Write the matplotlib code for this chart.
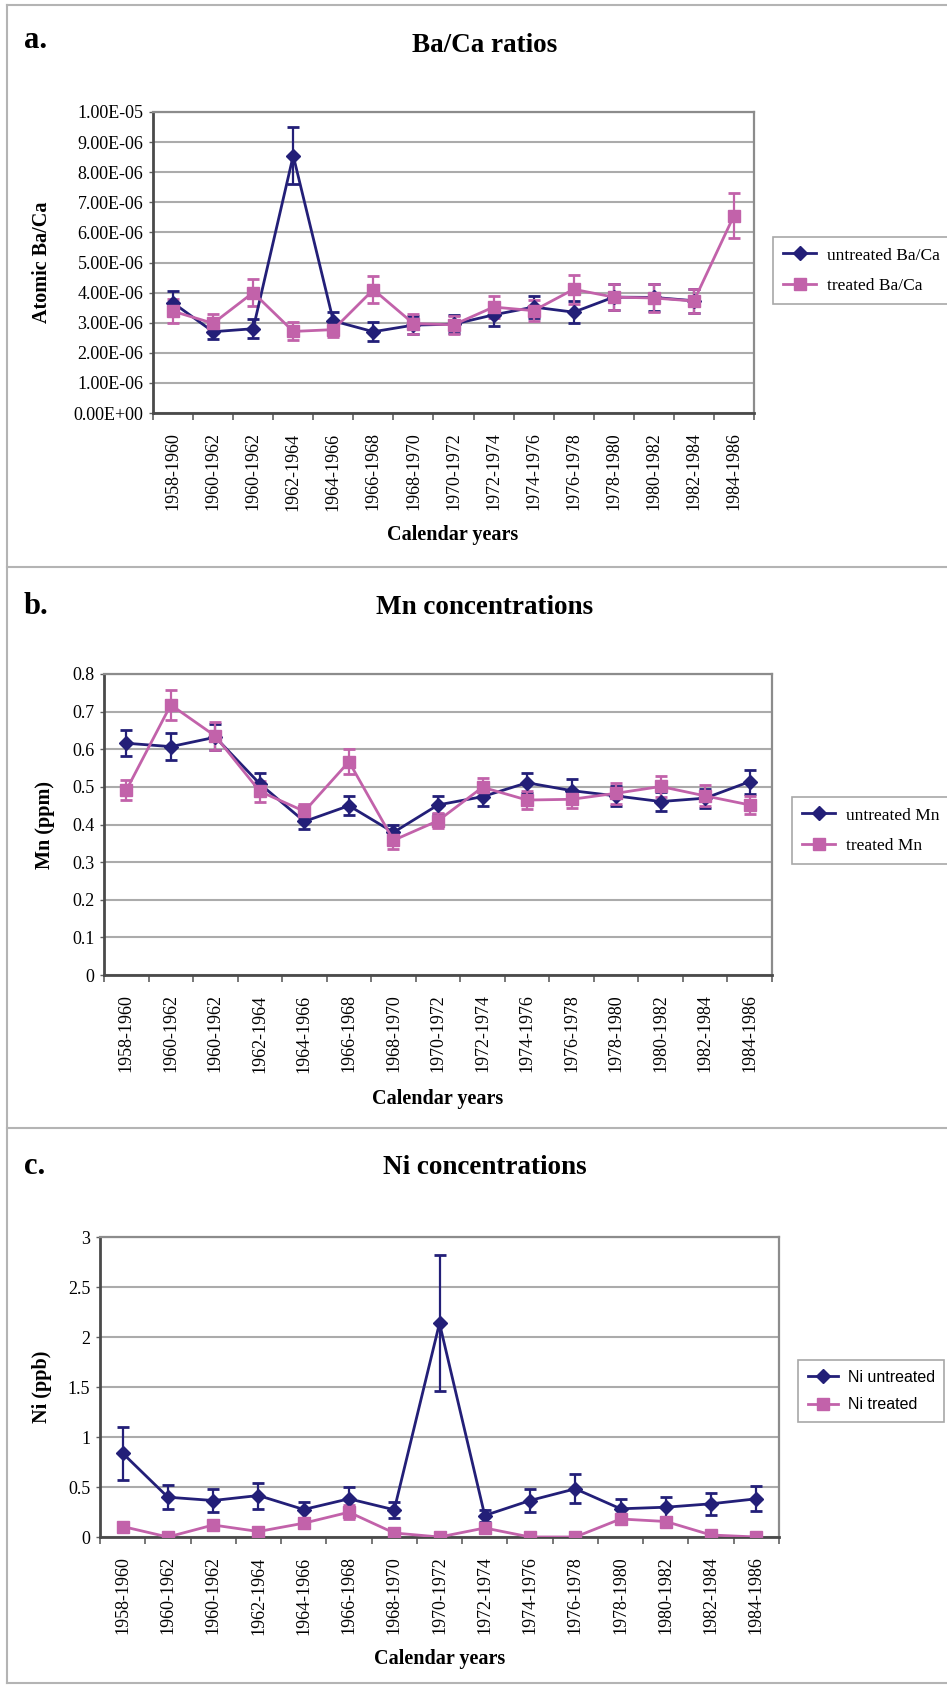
import numpy as np
import matplotlib.pyplot as plt
from matplotlib.lines import Line2D
from matplotlib.ticker import FixedLocator, FuncFormatter

# calendar-year bins (shared by all three panels)
years = ["1958-1960", "1960-1962", "1960-1962", "1962-1964", "1964-1966",
         "1966-1968", "1968-1970", "1970-1972", "1972-1974", "1974-1976",
         "1976-1978", "1978-1980", "1980-1982", "1982-1984", "1984-1986"]

# a. Ba/Ca ratios (x 1e-6)
baca_untreated = [3.66, 2.70, 2.80, 8.55, 3.06, 2.70, 2.92, 2.95, 3.26, 3.52,
                  3.35, 3.85, 3.84, 3.73, np.nan]
baca_untreated_err = [0.40, 0.24, 0.32, 0.95, 0.30, 0.32, 0.30, 0.30, 0.37, 0.36,
                      0.36, 0.42, 0.44, 0.40, np.nan]
baca_treated = [3.38, 2.98, 4.00, 2.71, 2.77, 4.10, 2.97, 2.93, 3.52, 3.40,
                4.11, 3.85, 3.82, 3.72, 6.56]
baca_treated_err = [0.40, 0.32, 0.44, 0.30, 0.26, 0.45, 0.33, 0.30, 0.36, 0.36,
                    0.48, 0.42, 0.45, 0.41, 0.75]

# b. Mn (ppm)
mn_untreated = [0.616, 0.607, 0.632, 0.508, 0.408, 0.450, 0.379, 0.452, 0.474, 0.511,
                0.490, 0.476, 0.461, 0.470, 0.514]
mn_untreated_err = [0.035, 0.035, 0.035, 0.030, 0.020, 0.025, 0.020, 0.025, 0.025, 0.027,
                    0.030, 0.027, 0.026, 0.025, 0.032]
mn_treated = [0.491, 0.718, 0.635, 0.488, 0.435, 0.567, 0.358, 0.410, 0.499, 0.465,
              0.467, 0.483, 0.501, 0.476, 0.452]
mn_treated_err = [0.027, 0.040, 0.037, 0.027, 0.020, 0.033, 0.022, 0.020, 0.025, 0.025,
                  0.024, 0.028, 0.028, 0.028, 0.025]

# c. Ni (ppb)
ni_untreated = [0.838, 0.398, 0.365, 0.415, 0.275, 0.382, 0.272, 2.138, 0.215, 0.365,
                0.482, 0.282, 0.298, 0.332, 0.382]
ni_untreated_err = [0.265, 0.120, 0.115, 0.130, 0.080, 0.115, 0.080, 0.680, 0.060, 0.115,
                    0.145, 0.095, 0.100, 0.110, 0.125]
ni_treated = [0.105, 0.0, 0.120, 0.055, 0.138, 0.248, 0.040, 0.0, 0.090, 0.0,
              0.0, 0.180, 0.155, 0.020, 0.0]
ni_treated_err = [0.02, 0.0, 0.02, 0.02, 0.02, 0.07, 0.02, 0.0, 0.02, 0.0,
                  0.0, 0.04, 0.03, 0.02, 0.0]

NAVY = "#231F78"
PINK = "#C262AA"
SERIF = ["Liberation Serif", "DejaVu Serif"]

W, H = 947, 1686
fig = plt.figure(figsize=(W / 100, H / 100), dpi=100)
plt.rcParams['font.family'] = SERIF


def fx(px):
    return px / W


def fy(py):
    return 1 - py / H


def panel(box, untreated, u_err, treated, t_err, scale, yticks, yfmt,
          title, letter, ylabel, ylab_xy, title_y, letter_y, xlab_xy,
          leg_labels, leg_xy, leg_font, leg_size):
    x0, y0, x1, y1 = box
    ax = fig.add_axes([fx(x0), fy(y1), fx(x1 - x0), (y1 - y0) / H])
    x = np.arange(len(years))
    u = np.array(untreated, dtype=float) * scale
    ue = np.array(u_err, dtype=float) * scale
    t = np.array(treated, dtype=float) * scale
    te = np.array(t_err, dtype=float) * scale

    ax.errorbar(x, u, yerr=ue, fmt='none', ecolor=NAVY, elinewidth=1.6,
                capsize=4.5, capthick=2, zorder=3)
    ax.errorbar(x, t, yerr=te, fmt='none', ecolor=PINK, elinewidth=1.6,
                capsize=4.5, capthick=2, zorder=4)
    h1, = ax.plot(x, u, color=NAVY, lw=2, marker='D', ms=7, zorder=5)
    h2, = ax.plot(x, t, color=PINK, lw=2, marker='s', ms=8.5, zorder=6)

    ax.set_xlim(-0.5, len(years) - 0.5)
    ax.set_ylim(yticks[0], yticks[-1])
    ax.yaxis.set_major_locator(FixedLocator(yticks))
    ax.yaxis.set_major_formatter(FuncFormatter(yfmt))
    ax.grid(axis='y', color='#ABABAB', lw=1.5, zorder=0)
    ax.set_axisbelow(True)

    ax.set_xticks(x)
    ax.set_xticklabels(years, rotation=90, fontsize=13)
    ax.set_xticks(np.arange(-0.5, len(years)), minor=True)
    ax.tick_params(axis='x', which='major', length=0, pad=14)
    ax.tick_params(axis='x', which='minor', length=5, width=1.2,
                   color='#606060', direction='out')
    ax.tick_params(axis='y', length=3, width=1, color='#606060', labelsize=13, pad=4)

    for side in ['top', 'right']:
        ax.spines[side].set_color('#8C8C8C')
        ax.spines[side].set_linewidth(1.6)
    for side in ['left', 'bottom']:
        ax.spines[side].set_color('#4A4A4A')
        ax.spines[side].set_linewidth(2)

    fig.text(fx(24), fy(letter_y), letter, fontsize=22, fontweight='bold',
             ha='left', va='center')
    fig.text(fx(485), fy(title_y), title, fontsize=19.5, fontweight='bold',
             ha='center', va='center')
    fig.text(fx(ylab_xy[0]), fy(ylab_xy[1]), ylabel, fontsize=14.5,
             fontweight='bold', rotation=90, ha='center', va='center')
    fig.text(fx(xlab_xy[0]), fy(xlab_xy[1]), "Calendar years", fontsize=14.5,
             fontweight='bold', ha='center', va='center')

    leg = fig.legend([h1, h2], leg_labels, loc='upper left',
                     bbox_to_anchor=(fx(leg_xy[0]), fy(leg_xy[1])),
                     borderaxespad=0, frameon=True, fancybox=False,
                     edgecolor='#A8A8A8', framealpha=1, handlelength=1.9,
                     handletextpad=0.6, labelspacing=0.8, borderpad=0.6,
                     prop={'family': leg_font, 'size': leg_size})
    leg.get_frame().set_linewidth(1.2)
    return ax


sci = lambda v, p: "{:.2E}".format(v)
gen = lambda v, p: "{:g}".format(round(v, 2))

panel((153, 112, 754, 413), baca_untreated, baca_untreated_err,
      baca_treated, baca_treated_err, 1e-6,
      [i * 1e-6 for i in range(11)], sci,
      "Ba/Ca ratios", "a.", "Atomic Ba/Ca", (42, 262), 45, 40, (453, 535),
      ["untreated Ba/Ca", "treated Ba/Ca"], (773, 237), SERIF, 12.5)

panel((104, 674, 772, 975), mn_untreated, mn_untreated_err,
      mn_treated, mn_treated_err, 1.0,
      [i / 10 for i in range(9)], gen,
      "Mn concentrations", "b.", "Mn (ppm)", (45, 825), 607, 607, (438, 1099),
      ["untreated Mn", "treated Mn"], (792, 797), SERIF, 12.5)

panel((100, 1237, 779, 1537), ni_untreated, ni_untreated_err,
      ni_treated, ni_treated_err, 1.0,
      [i / 2 for i in range(7)], gen,
      "Ni concentrations", "c.", "Ni (ppb)", (42, 1387), 1168, 1166, (440, 1659),
      ["Ni untreated", "Ni treated"], (798, 1360),
      ["Liberation Sans Narrow", "Liberation Sans", "DejaVu Sans"], 11.5)

# panel frame lines
for yy in [5, 567, 1128, 1683]:
    fig.add_artist(Line2D([fx(7), 1], [fy(yy), fy(yy)], color='#B4B4B4', lw=1.5))
fig.add_artist(Line2D([fx(7), fx(7)], [fy(5), fy(1683)], color='#B4B4B4', lw=1.5))

fig.savefig("out.png", dpi=100)
